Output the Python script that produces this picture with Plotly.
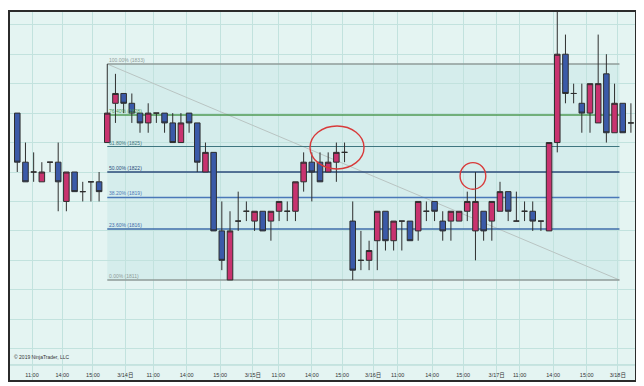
import plotly.graph_objects as go

# ---------------- data ----------------
bars = list(range(76))
opens = [1828, 1823, 1822, 1821, 1823, 1823, 1819, 1822, 1820, 1821, 1821,
         1825, 1829, 1830, 1829, 1828, 1827, 1828, 1828, 1827, 1825, 1828,
         1827, 1822, 1824, 1816, 1811, 1817, 1818, 1817, 1818, 1817, 1818,
         1818, 1818, 1821, 1823, 1823, 1822, 1823, 1824, 1817, 1813, 1813,
         1815, 1818, 1815, 1817, 1817, 1816, 1818, 1819, 1817, 1817, 1817,
         1818, 1816, 1818, 1817, 1818, 1820, 1817, 1818, 1818, 1817, 1816,
         1825, 1834, 1830, 1829, 1828, 1827, 1832, 1826, 1829, 1827]
highs = [1828, 1825, 1824, 1823, 1823, 1825, 1822, 1822, 1821, 1821, 1822,
         1833, 1832, 1830, 1830, 1828, 1829, 1828, 1828, 1828, 1828, 1828,
         1827, 1825, 1824, 1819, 1818, 1820, 1819, 1818, 1818, 1818, 1819,
         1819, 1821, 1824, 1824, 1824, 1824, 1825, 1825, 1819, 1816, 1815,
         1818, 1818, 1817, 1817, 1817, 1819, 1819, 1819, 1818, 1818, 1818,
         1820, 1822, 1818, 1819, 1821, 1820, 1820, 1819, 1819, 1817, 1825,
         1840, 1836, 1831, 1831, 1831, 1836, 1834, 1831, 1829, 1829]
lows = [1822, 1821, 1821, 1821, 1822, 1818, 1818, 1820, 1819, 1819, 1819,
        1825, 1827, 1828, 1827, 1826, 1826, 1827, 1826, 1825, 1825, 1826,
        1822, 1822, 1816, 1812, 1811, 1816, 1817, 1816, 1816, 1815, 1817,
        1817, 1817, 1820, 1819, 1821, 1822, 1821, 1823, 1811, 1812, 1812,
        1812, 1814, 1814, 1814, 1815, 1815, 1817, 1817, 1815, 1815, 1817,
        1817, 1813, 1815, 1815, 1818, 1817, 1817, 1817, 1816, 1816, 1816,
        1824, 1829, 1829, 1826, 1826, 1827, 1825, 1826, 1826, 1826]
closes = [1823, 1821, 1822, 1822, 1823, 1821, 1822, 1820, 1820, 1821, 1820,
          1828, 1830, 1829, 1828, 1827, 1828, 1828, 1827, 1825, 1827, 1827,
          1823, 1824, 1816, 1813, 1816, 1817, 1818, 1818, 1816, 1818, 1819,
          1818, 1821, 1823, 1822, 1821, 1823, 1824, 1824, 1812, 1813, 1814,
          1818, 1815, 1817, 1817, 1815, 1819, 1818, 1818, 1816, 1818, 1818,
          1819, 1819, 1816, 1819, 1820, 1818, 1817, 1818, 1817, 1817, 1825,
          1834, 1830, 1830, 1828, 1831, 1831, 1826, 1829, 1826, 1827]

tick_pos = [1.8, 5.5, 9.25, 13.2, 16.6, 20.7, 24.8, 28.8, 31.9, 36.0,
            39.7, 43.5, 46.5, 50.7, 54.5, 58.6, 61.4, 65.5, 69.6, 73.4]
tick_text = ["11:00", "14:00", "15:00", "3/14日", "11:00", "14:00", "15:00", "3/15日",
             "11:00", "14:00", "15:00", "3/16日", "11:00", "14:00", "15:00", "3/17日",
             "11:00", "14:00", "15:00", "3/18日"]

fib_start, fib_end = 11, 73.6
fib_high, fib_low = 1833, 1811
fib_ratios = [1.0, 0.764, 0.618, 0.5, 0.382, 0.236, 0.0]
fib_colors = ["#8f9b99", "#4f9a55", "#3f7680", "#2a4a7a", "#4a78b8", "#3e6caa", "#8f9b99"]
fib_widths = [1.5, 1.5, 1.2, 1.5, 1.5, 1.5, 1.3]

# ---------------- figure ----------------
fig = go.Figure()
fig.add_trace(go.Candlestick(
    x=bars, open=opens, high=highs, low=lows, close=closes,
    increasing=dict(fillcolor="#c8336f", line=dict(color="#2e2e2e", width=1)),
    decreasing=dict(fillcolor="#3b5aa8", line=dict(color="#2e2e2e", width=1)),
    whiskerwidth=0, showlegend=False, hoverinfo="skip"))

shapes = []
shapes.append(dict(type="rect", xref="x", yref="y", x0=fib_start, x1=fib_end,
                   y0=fib_low, y1=fib_high, fillcolor="rgba(40,170,160,0.08)",
                   line=dict(width=0), layer="below"))
shapes.append(dict(type="line", xref="paper", yref="y", x0=0, x1=1, y0=1802.34, y1=1802.34,
                   line=dict(color="#a8d3ce", width=1), layer="below"))
shapes.append(dict(type="line", xref="x", yref="y", x0=fib_start, x1=fib_end,
                   y0=fib_high, y1=fib_low, line=dict(color="#b9c4c2", width=1), layer="between"))
annotations = []
for r, c, w in zip(fib_ratios, fib_colors, fib_widths):
    lvl = fib_low + r * (fib_high - fib_low)
    shapes.append(dict(type="line", xref="x", yref="y", x0=fib_start, x1=fib_end,
                       y0=lvl, y1=lvl, line=dict(color=c, width=w), layer="between"))
    annotations.append(dict(x=fib_start, y=lvl, xref="x", yref="y", xanchor="left",
                            yanchor="bottom", showarrow=False, yshift=-1,
                            text=f"{r*100:.2f}% ({lvl:.0f})",
                            font=dict(size=5, color=c, family="Liberation Sans")))

shapes.append(dict(type="circle", xref="x", yref="y", x0=35.78, x1=42.38, y0=1822.31, y1=1826.69,
                   line=dict(color="#d83a3a", width=1.4), layer="above"))
shapes.append(dict(type="circle", xref="x", yref="y", x0=54.12, x1=57.26, y0=1820.24, y1=1822.95,
                   line=dict(color="#d83a3a", width=1.4), layer="above"))

annotations.append(dict(x=0.003, y=0.062, xref="paper", yref="paper", xanchor="left",
                        yanchor="middle", showarrow=False, text="© 2019 NinjaTrader, LLC",
                        font=dict(size=5, color="#333333", family="Liberation Sans")))

# page body has an 8px default margin, so the figure is sized/offset to compensate
fig.update_layout(
    width=636, height=378,
    margin=dict(l=2, r=9, t=4, b=6),
    paper_bgcolor="white",
    plot_bgcolor="#e4f4f2",
    boxgap=0.32, boxgroupgap=0,
    shapes=shapes, annotations=annotations,
    xaxis=dict(type="linear", range=[-0.89, 75.5], rangeslider=dict(visible=False),
               tickmode="array", tickvals=tick_pos, ticktext=tick_text,
               ticklabelposition="inside", ticks="",
               tickfont=dict(size=5.5, color="#333333", family="Liberation Sans, Noto Sans CJK JP"),
               showgrid=True, gridcolor="#c2e2de", gridwidth=1, zeroline=False,
               showline=True, mirror=True, linecolor="#2b2b2b", linewidth=1.5),
    yaxis=dict(range=[1800.81, 1838.3], showticklabels=False, ticks="",
               tick0=1801, dtick=3, showgrid=True, gridcolor="#c2e2de", gridwidth=1,
               zeroline=False, showline=True, mirror=True, linecolor="#2b2b2b", linewidth=1.5),
)

fig.write_html("out.html")
